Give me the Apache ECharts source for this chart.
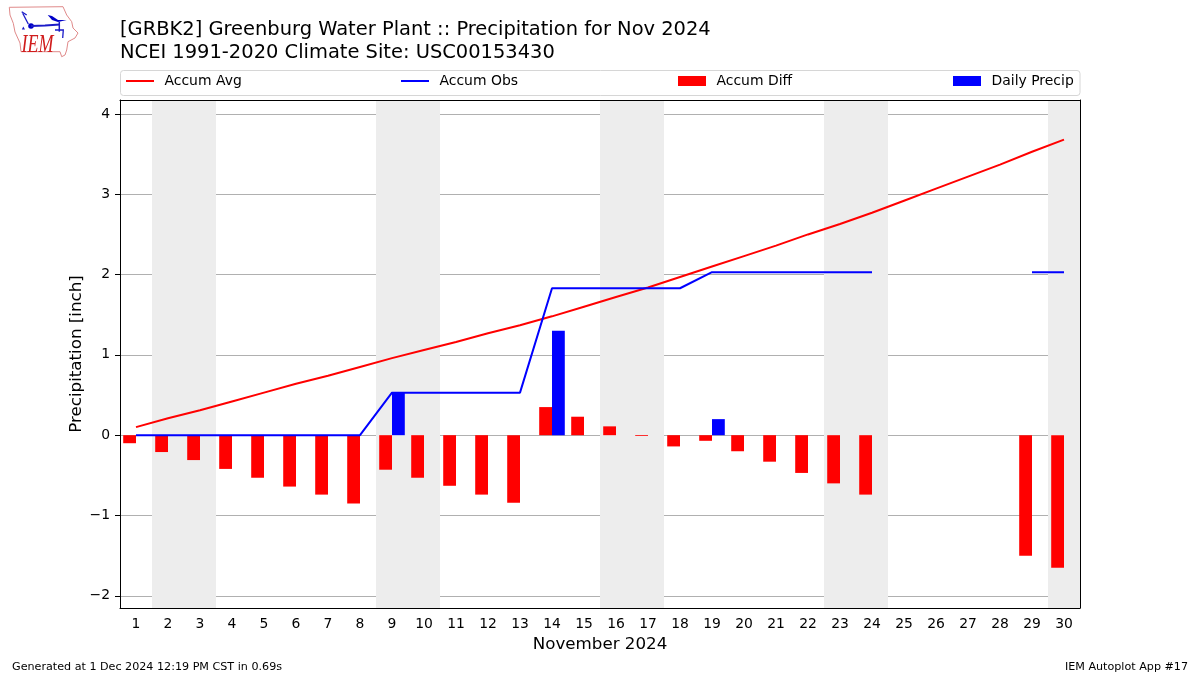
<!DOCTYPE html>
<html><head><meta charset="utf-8">
<script src="https://cdn.jsdelivr.net/npm/echarts@6/dist/echarts.min.js"></script>
<style>html,body{margin:0;padding:0;background:#fff}#c{width:1200px;height:675px}</style>
</head><body><div id="c"></div>
<script>
const days = Array.from({length:30},(_,i)=>String(i+1));
const accumAvg = [0.10,0.21,0.31,0.42,0.53,0.64,0.74,0.85,0.96,1.06,1.16,1.27,1.37,1.48,1.60,1.72,1.84,1.97,2.10,2.23,2.36,2.50,2.63,2.77,2.92,3.07,3.22,3.37,3.53,3.68];
const accumObs = [0,0,0,0,0,0,0,0,0.53,0.53,0.53,0.53,0.53,1.83,1.83,1.83,1.83,1.83,2.03,2.03,2.03,2.03,2.03,2.03,null,null,null,null,2.03,2.03];
const accumDiff = [-0.10,-0.21,-0.31,-0.42,-0.53,-0.64,-0.74,-0.85,-0.43,-0.53,-0.63,-0.74,-0.84,0.35,0.23,0.11,-0.01,-0.14,-0.07,-0.20,-0.33,-0.47,-0.60,-0.74,null,null,null,null,-1.50,-1.65];
const dailyPrecip = [null,null,null,null,null,null,null,null,0.53,null,null,null,null,1.30,null,null,null,null,0.20,null,null,null,null,null,null,null,null,null,null,null];
const weekendBands = [[1.5,3.5],[8.5,10.5],[15.5,17.5],[22.5,24.5],[29.5,30.5]];
const yTicks = [-2,-1,0,1,2,3,4];
const yMin = -2.152, yMax = 4.174;
const titleLines = "[GRBK2] Greenburg Water Plant :: Precipitation for Nov 2024\nNCEI 1991-2020 Climate Site: USC00153430";

const F = "'DejaVu Sans'";
const chart = echarts.init(document.getElementById('c'), null, {renderer:'canvas'});
const legendAt = (name,left,isBar) => ({show:true,data:[{name,icon:'rect'}],left,top:74,itemWidth:28,itemHeight:isBar?10:2,itemGap:10,padding:0,
  textStyle:{fontFamily:F,fontSize:13.95,color:'#000',padding:[4,0,0,5.5]},selectedMode:false});
const red='#ff0000', blue='#0000ff';
chart.setOption({
  animation:false,
  backgroundColor:'#fff',
  textStyle:{fontFamily:F},
  title:{text:titleLines,left:120,top:19,padding:0,textStyle:{fontFamily:F,fontSize:19.47,fontWeight:'normal',color:'#000',lineHeight:22.5}},
  legend:[legendAt('Accum Avg',126,false),legendAt('Accum Obs',401,false),legendAt('Accum Diff',678,true),legendAt('Daily Precip',953,true)],
  grid:{left:120,top:100,width:960,height:508,containLabel:false},
  xAxis:[
    {type:'category',data:days,position:'bottom',z:1,
     axisLine:{onZero:false,lineStyle:{color:'#000',width:1}},
     axisTick:{alignWithLabel:true,length:5,lineStyle:{color:'#000'}},
     axisLabel:{color:'#000',fontFamily:F,fontSize:13.9,margin:9,interval:0},
     splitLine:{show:false},
     name:'November 2024',nameLocation:'middle',nameGap:28,nameTextStyle:{fontFamily:F,fontSize:16.7,color:'#000'}},
    {type:'value',min:0.5,max:30.5,position:'top',show:true,z:1,
     axisLine:{show:true,onZero:false,lineStyle:{color:'#000',width:1}},axisTick:{show:false},axisLabel:{show:false},splitLine:{show:false}}
  ],
  yAxis:[
    {type:'value',min:yMin,max:yMax,interval:1,z:1,
     axisLine:{show:true,onZero:false,lineStyle:{color:'#000',width:1}},
     axisTick:{length:5,lineStyle:{color:'#000'},customValues:yTicks},
     axisLabel:{color:'#000',fontFamily:F,fontSize:13.9,margin:10,padding:[3,0,0,0],customValues:yTicks,formatter:v=>String(v).replace('-','\u2212')},
     splitLine:{show:true,lineStyle:{color:'#b0b0b0',width:1}},
     name:'Precipitation [inch]',nameLocation:'middle',nameGap:35,nameMoveOverlap:false,nameTextStyle:{fontFamily:F,fontSize:16.7,color:'#000'}},
    {type:'value',min:yMin,max:yMax,position:'right',z:1,
     axisLine:{show:true,onZero:false,lineStyle:{color:'#000',width:1}},axisTick:{show:false},axisLabel:{show:false},splitLine:{show:false}}
  ],
  series:[
    {name:'shade',type:'line',xAxisIndex:1,yAxisIndex:0,data:[],z:0,silent:true,
     markArea:{silent:true,itemStyle:{color:'#ededed'},
       data:weekendBands.map(b=>[{xAxis:b[0],yAxis:yMin},{xAxis:b[1],yAxis:yMax}])}},
    {name:'Accum Diff',type:'bar',data:accumDiff,barWidth:12.8,barGap:0,itemStyle:{color:red},z:2},
    {name:'Daily Precip',type:'bar',data:dailyPrecip,barWidth:12.8,barGap:0,itemStyle:{color:blue},z:2},
    {name:'Accum Avg',type:'line',data:accumAvg,symbol:'none',showSymbol:false,lineStyle:{color:red,width:2},itemStyle:{color:red},z:3},
    {name:'Accum Obs',type:'line',data:accumObs,symbol:'none',showSymbol:false,connectNulls:false,lineStyle:{color:blue,width:2},itemStyle:{color:blue},z:3}
  ],
  graphic:[
    {type:'rect',shape:{x:120.5,y:70.5,width:959.5,height:25,r:3},style:{fill:'none',stroke:'#d6d6d6',lineWidth:1},z:-1,silent:true},
    {type:'text',left:12,top:662,style:{text:'Generated at 1 Dec 2024 12:19 PM CST in 0.69s',font:"11.15px "+F,fill:'#000'},silent:true},
    {type:'text',right:12,top:662,style:{text:'IEM Autoplot App #17',font:"11.15px "+F,fill:'#000'},silent:true},
    {type:'group',silent:true,children:[
      {type:'polyline',shape:{points:[[9.3,7.3],[63,6.7],[66.7,15],[71.7,21.7],[73,28],[78,33],[75,38],[68,41.7],[66.7,50],[65,55],[61.7,56.7],[60,51.7],[21,51.7],[20,43],[15,32],[13.3,23.3],[10,15],[9.3,7.3]]},style:{fill:'none',stroke:'#e08a8a',lineWidth:1}},
      {type:'text',x:21.5,y:33,scaleY:1.35,style:{text:'IEM',font:"italic 18px 'Liberation Serif'",fill:'#d01c1c'}},
      {type:'circle',shape:{cx:31,cy:26,r:2.8},style:{fill:'#0000c8'}},
      {type:'polyline',shape:{points:[[31,26],[45,25.5],[60,24.5]]},style:{stroke:'#1a1ac8',lineWidth:1.8,fill:'none'}},
      {type:'polyline',shape:{points:[[22.7,13.3],[28.3,24]]},style:{stroke:'#1a1ac8',lineWidth:1.3,fill:'none'}},
      {type:'polyline',shape:{points:[[21.7,11.7],[26.7,15]]},style:{stroke:'#1a1ac8',lineWidth:1.3,fill:'none'}},
      {type:'polygon',shape:{points:[[47.7,15],[52,16],[58,20],[66.7,20],[58,22],[52,20]]},style:{fill:'#0000c8'}},
      {type:'polyline',shape:{points:[[59.3,21.7],[59.3,31.7]]},style:{stroke:'#1a1ac8',lineWidth:1.5,fill:'none'}},
      {type:'polyline',shape:{points:[[55,30],[63.3,30],[62.7,38]]},style:{stroke:'#1a1ac8',lineWidth:1.3,fill:'none'}},
      {type:'polygon',shape:{points:[[23.3,26.5],[25,29.5],[21.8,29.5]]},style:{fill:'#1a1ac8'}}
    ]}
  ]
});
</script></body></html>
